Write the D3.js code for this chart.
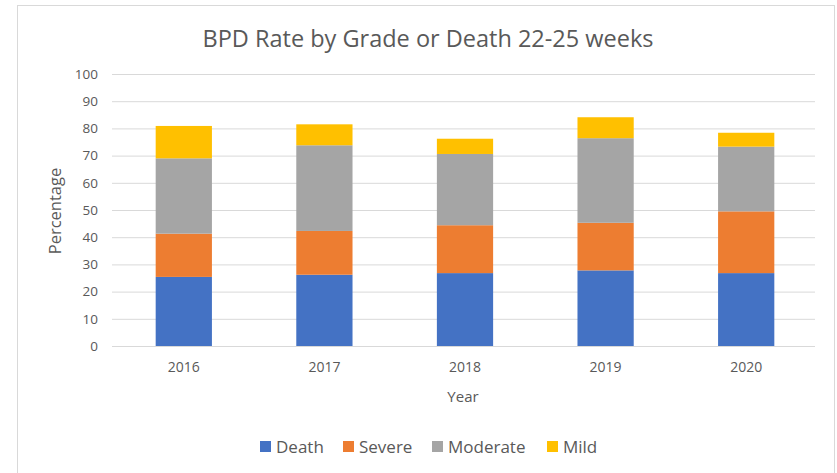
<!DOCTYPE html>
<html>
<head>
<meta charset="utf-8">
<script src="https://cdn.jsdelivr.net/npm/d3@7"></script>
<style>
  body { margin: 0; background: #fff; }
  svg { display: block; }
  text { font-family: "Open Sans", "Noto Sans", sans-serif; fill: #595959; }
</style>
</head>
<body>
<svg id="chart" width="837" height="473"></svg>
<script>
const years = ["2016", "2017", "2018", "2019", "2020"];
const seriesNames = ["Death", "Severe", "Moderate", "Mild"];
const death = [25.4, 26.2, 26.8, 27.8, 26.8];
const severe = [15.9, 16.1, 17.6, 17.5, 22.7];
const moderate = [27.7, 31.5, 26.2, 31.1, 23.8];
const mild = [11.9, 7.7, 5.6, 7.7, 5.1];
const yTicks = [0, 10, 20, 30, 40, 50, 60, 70, 80, 90, 100];
const colors = ["#4472c4", "#ed7d31", "#a5a5a5", "#ffc000"];

const rows = years.map((y, i) => ({
  year: y, Death: death[i], Severe: severe[i], Moderate: moderate[i], Mild: mild[i]
}));

const svg = d3.select("#chart");
const plot = { left: 112, right: 815, top: 74, bottom: 346 };

// outer frame
svg.append("rect")
  .attr("x", 17.5).attr("y", 5.5)
  .attr("width", 817).attr("height", 480)
  .attr("fill", "#fff").attr("stroke", "#d9d9d9").attr("stroke-width", 1);

const x = d3.scaleBand().domain(years).range([plot.left + 1.5, plot.right + 1.5]).paddingInner(0.6).paddingOuter(0.3);
const y = d3.scaleLinear().domain([0, 100]).range([plot.bottom, plot.top]);

// gridlines
const yAxis = d3.axisLeft(y).tickValues(yTicks).tickSize(-(plot.right - plot.left)).tickPadding(14);
const gy = svg.append("g").attr("transform", `translate(${plot.left},0)`).call(yAxis);
gy.select(".domain").remove();
gy.selectAll(".tick line").attr("stroke", "#d9d9d9").attr("stroke-width", 1);
gy.selectAll(".tick text").attr("font-size", 13.5).attr("fill", "#595959")
  .style("font-family", '"Open Sans", sans-serif');

// stacked bars
const stack = d3.stack().keys(seriesNames);
const stacked = stack(rows);
svg.append("g").selectAll("g").data(stacked).join("g")
  .attr("fill", (d, i) => colors[i])
  .selectAll("rect").data(d => d).join("rect")
  .attr("x", d => x(d.data.year))
  .attr("width", x.bandwidth())
  .attr("y", d => y(d[1]))
  .attr("height", d => y(d[0]) - y(d[1]));

// x axis
const xAxis = d3.axisBottom(x).tickSize(0).tickPadding(16);
const gx = svg.append("g").attr("transform", `translate(0,${plot.bottom})`).call(xAxis);
gx.select(".domain").attr("stroke", "#d9d9d9").attr("d", `M${plot.left},0.5H${plot.right}`);
gx.selectAll(".tick text").attr("font-size", 14).attr("fill", "#595959")
  .style("font-family", '"Open Sans", sans-serif');

// title
svg.append("text").attr("x", 428).attr("y", 47).attr("text-anchor", "middle")
  .attr("font-size", 23.5).text("BPD Rate by Grade or Death 22-25 weeks");

// axis titles
svg.append("text").attr("x", 463).attr("y", 402).attr("text-anchor", "middle")
  .attr("font-size", 15).text("Year");
svg.append("text").attr("transform", "translate(61,211) rotate(-90)")
  .attr("text-anchor", "middle").attr("font-size", 16.5).text("Percentage");

// legend
const legendX = [260, 343, 432, 547];
const lg = svg.append("g").selectAll("g").data(seriesNames).join("g")
  .attr("transform", (d, i) => `translate(${legendX[i]},446)`);
lg.append("rect").attr("x", 0).attr("y", -5).attr("width", 11).attr("height", 11)
  .attr("fill", (d, i) => colors[i]);
lg.append("text").attr("x", 16).attr("y", 6.5).attr("font-size", 17).text(d => d);
</script>
</body>
</html>
